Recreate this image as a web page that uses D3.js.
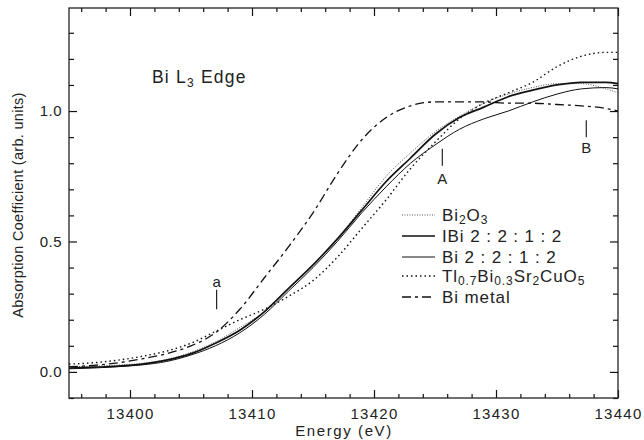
<!DOCTYPE html>
<html>
<head>
<meta charset="utf-8">
<script src="https://cdn.jsdelivr.net/npm/d3@7"></script>
<style>
  body { margin: 0; background: #fff; }
  text { font-family: "Liberation Sans", Arial, sans-serif; fill: #222; }
</style>
</head>
<body>
<div id="chart"></div>
<script>
// energies (eV) shared by every spectrum
const energy = [13395, 13397, 13399, 13401, 13403, 13405, 13407, 13409, 13411, 13413, 13415, 13417,
  13419, 13421, 13423, 13425, 13427, 13429, 13431, 13433, 13435, 13437, 13439, 13440];

const bi2o3 = [0.02, 0.022, 0.026, 0.033, 0.048, 0.075, 0.115, 0.17, 0.23, 0.32, 0.41, 0.51,
  0.63, 0.75, 0.84, 0.92, 0.98, 1.03, 1.065, 1.09, 1.105, 1.105, 1.085, 1.07];
const ibi2212 = [0.015, 0.018, 0.022, 0.03, 0.045, 0.07, 0.11, 0.16, 0.23, 0.32, 0.41, 0.51,
  0.62, 0.73, 0.82, 0.91, 0.975, 1.015, 1.055, 1.08, 1.1, 1.11, 1.11, 1.105];
const bi2212 = [0.012, 0.015, 0.02, 0.027, 0.04, 0.065, 0.1, 0.15, 0.22, 0.31, 0.4, 0.5,
  0.61, 0.71, 0.8, 0.87, 0.93, 0.97, 1.0, 1.035, 1.065, 1.085, 1.09, 1.085];
const tlbi = [0.03, 0.035, 0.045, 0.06, 0.08, 0.11, 0.155, 0.2, 0.24, 0.29, 0.35, 0.44,
  0.55, 0.66, 0.78, 0.88, 0.97, 1.03, 1.07, 1.11, 1.17, 1.21, 1.225, 1.225];
const bimetal = [0.02, 0.025, 0.035, 0.05, 0.07, 0.1, 0.15, 0.24, 0.36, 0.48, 0.61, 0.76,
  0.89, 0.975, 1.02, 1.035, 1.035, 1.035, 1.03, 1.03, 1.025, 1.02, 1.01, 1.0];

const xMajor = [13400, 13410, 13420, 13430, 13440];
const yMajor = [0.0, 0.5, 1.0];

const w = 644, h = 440;
const margin = { left: 69, right: 26, top: 8, bottom: 42 };

const svg = d3.select("#chart").append("svg")
  .attr("width", w)
  .attr("height", h);

const xScale = d3.scaleLinear().domain([13395, 13440]).range([margin.left, w - margin.right]);
const yScale = d3.scaleLinear().domain([-0.1, 1.395]).range([h - margin.bottom, margin.top]);

const xMinor = d3.range(13396, 13440, 2).filter(d => !xMajor.includes(d));
const yMinor = d3.range(-0.1, 1.4, 0.1).map(d => +d.toFixed(1)).filter(d => !yMajor.includes(d));

// axes: ticks point inward on all four sides
const addAxis = (axis, tr) => {
  const g = svg.append("g").attr("transform", tr).call(axis);
  g.select(".domain").remove();
  g.selectAll(".tick line").attr("stroke", "#111").attr("stroke-width", 1.2);
  return g;
};
const trBottom = `translate(0,${h - margin.bottom})`;
const trTop = `translate(0,${margin.top})`;
const trLeft = `translate(${margin.left},0)`;
const trRight = `translate(${w - margin.right},0)`;

addAxis(d3.axisBottom(xScale).tickValues(xMajor).tickSize(-8).tickPadding(10).tickFormat(d3.format("d")), trBottom)
  .selectAll("text").attr("font-size", 15).attr("letter-spacing", 1.3).attr("fill", "#333");
addAxis(d3.axisBottom(xScale).tickValues(xMinor).tickSize(-4).tickFormat(""), trBottom);
addAxis(d3.axisTop(xScale).tickValues(xMajor).tickSize(-8).tickFormat(""), trTop);
addAxis(d3.axisTop(xScale).tickValues(xMinor).tickSize(-4).tickFormat(""), trTop);
addAxis(d3.axisLeft(yScale).tickValues(yMajor).tickSize(-8).tickPadding(7).tickFormat(d3.format(".1f")), trLeft)
  .selectAll("text").attr("font-size", 15).attr("letter-spacing", 0.5).attr("fill", "#333");
addAxis(d3.axisLeft(yScale).tickValues(yMinor).tickSize(-5).tickFormat(""), trLeft);
addAxis(d3.axisRight(yScale).tickValues(yMajor).tickSize(-8).tickFormat(""), trRight);
addAxis(d3.axisRight(yScale).tickValues(yMinor).tickSize(-5).tickFormat(""), trRight);

// frame
svg.append("rect")
  .attr("x", margin.left).attr("y", margin.top)
  .attr("width", w - margin.left - margin.right)
  .attr("height", h - margin.top - margin.bottom)
  .attr("fill", "none").attr("stroke", "#222").attr("stroke-width", 1.3);

svg.append("text")
  .attr("x", 344).attr("y", 436)
  .attr("text-anchor", "middle").attr("font-size", 15).attr("letter-spacing", 1.6).attr("fill", "#333")
  .text("Energy (eV)");
svg.append("text")
  .attr("transform", `translate(23,205) rotate(-90)`)
  .attr("text-anchor", "middle").attr("font-size", 14.5).attr("letter-spacing", 0.3).attr("fill", "#333")
  .text("Absorption Coefficient (arb. units)");

// series
const series = [
  { name: "bi2o3", values: bi2o3, width: 1, dash: "1,1.5", color: "#555" },
  { name: "ibi", values: ibi2212, width: 1.7, dash: null, color: "#111" },
  { name: "bi", values: bi2212, width: 1, dash: null, color: "#111" },
  { name: "tl", values: tlbi, width: 1.4, dash: "1.5,3", color: "#111" },
  { name: "metal", values: bimetal, width: 1.3, dash: "9,4,3,4", color: "#111" },
];

const line = d3.line()
  .x(d => xScale(d[0]))
  .y(d => yScale(d[1]))
  .curve(d3.curveMonotoneX);

series.forEach(s => {
  svg.append("path")
    .datum(energy.map((e, i) => [e, s.values[i]]))
    .attr("fill", "none")
    .attr("stroke", s.color)
    .attr("stroke-width", s.width)
    .attr("stroke-dasharray", s.dash)
    .attr("d", line);
});

// title
const title = svg.append("text").attr("x", 152).attr("y", 83).attr("font-size", 17.5).attr("letter-spacing", 1.2);
title.append("tspan").text("Bi L");
title.append("tspan").attr("font-size", 12).attr("dy", 4).text("3");
title.append("tspan").attr("dy", -4).text(" Edge");

// feature markers
const marks = [
  { label: "a", e: 13407.1, y0: 0.315, y1: 0.24, ty: 0.325 },
  { label: "A", e: 13425.6, y0: 0.855, y1: 0.79, ty: 0.72 },
  { label: "B", e: 13437.4, y0: 0.965, y1: 0.9, ty: 0.84 },
];
marks.forEach(m => {
  svg.append("line")
    .attr("x1", xScale(m.e)).attr("x2", xScale(m.e))
    .attr("y1", yScale(m.y0)).attr("y2", yScale(m.y1))
    .attr("stroke", "#222").attr("stroke-width", 1.2);
  svg.append("text")
    .attr("x", xScale(m.e)).attr("y", yScale(m.ty))
    .attr("text-anchor", "middle").attr("font-size", 15)
    .text(m.label);
});

// legend
const legend = [
  { parts: [["Bi"], ["2", 1], ["O"], ["3", 1]], s: series[0] },
  { parts: [["IBi 2 : 2 : 1 : 2"]], s: series[1] },
  { parts: [["Bi 2 : 2 : 1 : 2"]], s: series[2] },
  { parts: [["Tl"], ["0.7", 1], ["Bi"], ["0.3", 1], ["Sr"], ["2", 1], ["CuO"], ["5", 1]], s: series[3] },
  { parts: [["Bi metal"]], s: series[4] },
];
const ly = [215, 236, 257, 276, 297];
legend.forEach((l, i) => {
  svg.append("line")
    .attr("x1", 402).attr("x2", 435)
    .attr("y1", ly[i]).attr("y2", ly[i])
    .attr("stroke", l.s.color)
    .attr("stroke-width", l.s.width)
    .attr("stroke-dasharray", l.s.dash);
  const t = svg.append("text").attr("x", 442).attr("y", ly[i] + 6)
    .attr("font-size", 17).attr("letter-spacing", 0.9);
  let sub = false;
  l.parts.forEach(p => {
    const ts = t.append("tspan").text(p[0]);
    if (p[1] && !sub) { ts.attr("dy", 3).attr("font-size", 12); sub = true; }
    else if (p[1]) { ts.attr("font-size", 12); }
    else if (sub) { ts.attr("dy", -3); sub = false; }
  });
});
</script>
</body>
</html>
